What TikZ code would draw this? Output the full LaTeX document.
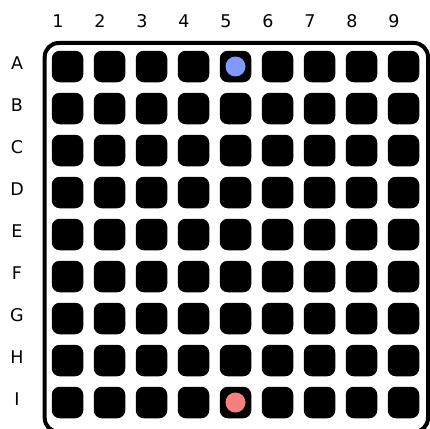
\documentclass[tikz,border=0pt]{standalone}
\usepackage{fontspec}
\setmainfont{DejaVu Sans}
\definecolor{dotblue}{RGB}{128,153,255}
\definecolor{dotred}{RGB}{245,128,128}
\begin{document}
\begin{tikzpicture}[x=1pt,y=-1pt,
  cell/.style={fill=black,rounded corners=8pt,minimum size=31.5pt,inner sep=0pt},
  lbl/.style={font=\fontsize{17.5}{17.5}\selectfont,inner sep=0pt},
  dot/.style={circle,minimum size=20pt,inner sep=0pt}]
\useasboundingbox (0,0) rectangle (430,428);
\begin{scope}
\clip (0,0) rectangle (430,428);
\draw[line width=4pt,rounded corners=14pt] (44.7,43) rectangle (428,432);
\end{scope}
\foreach \c [count=\i from 0] in {1,...,9} {
  \node[lbl] (col\c) at (58+42*\i,21) {\c};
}
\foreach \r [count=\j from 0] in {A,B,C,D,E,F,G,H,I} {
  \node[lbl] (row\r) at (17,63.5+42*\j) {\r};
  \foreach \c [count=\i from 0] in {1,...,9} {
    \node[cell] (c\r\c) at (67.5+42*\i,66.5+42*\j) {};
  }
}
\node[dot,fill=dotblue] (blue) at (cA5) {};
\node[dot,fill=dotred] (red) at (cI5) {};
\end{tikzpicture}
\end{document}
